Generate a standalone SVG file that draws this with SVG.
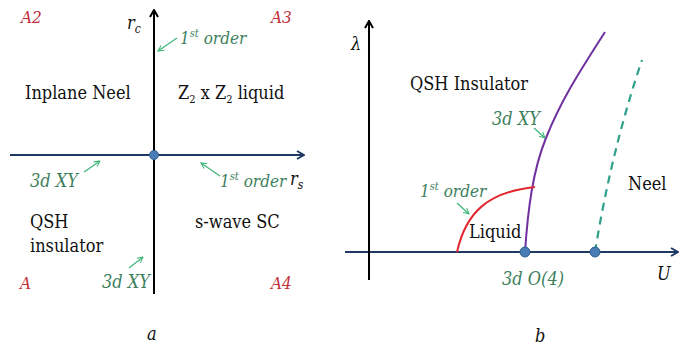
<svg xmlns="http://www.w3.org/2000/svg" width="690" height="347" viewBox="0 0 690 347">
<style>
.lbl{font-size:18px;fill:#111;}
.red{font-size:17px;fill:#C0303A;font-style:italic;}
.grn{font-size:18px;fill:#3E7F5E;font-style:italic;}
.ord{font-size:17px;fill:#3E7F5E;font-style:italic;}
.ax{font-size:18px;fill:#111;font-style:italic;}
.sup{font-size:11px;}
.gar{stroke:#3DB577;stroke-width:1.2;fill:none;marker-end:url(#ga);}
.navy{stroke:#1F3864;stroke-width:2;fill:none;marker-end:url(#na);}
.blk{stroke:#000;stroke-width:2;fill:none;marker-end:url(#ba);}
.dot{fill:#4A7DB5;stroke:#2F5C8F;stroke-width:1;}
</style>
<defs>
<marker id="ga" viewBox="0 0 10 10" refX="9" refY="5" markerWidth="7" markerHeight="7" markerUnits="userSpaceOnUse" orient="auto">
<path d="M1,1 L9,5 L1,9" fill="none" stroke="#3DB577" stroke-width="1.5"/>
</marker>
<marker id="na" viewBox="0 0 10 10" refX="9" refY="5" markerWidth="10" markerHeight="10" markerUnits="userSpaceOnUse" orient="auto">
<path d="M2,1 L9,5 L2,9" fill="none" stroke="#1F3864" stroke-width="2"/>
</marker>
<marker id="ba" viewBox="0 0 10 10" refX="9" refY="5" markerWidth="10" markerHeight="10" markerUnits="userSpaceOnUse" orient="auto">
<path d="M2,1 L9,5 L2,9" fill="none" stroke="#000" stroke-width="2"/>
</marker>
</defs>
<rect width="690" height="347" fill="#fff"/>

<g id="connectors">
<line class="navy" x1="10" y1="155" x2="304" y2="155"/>
<line class="blk" x1="154" y1="294" x2="154" y2="10"/>
<line class="gar" x1="177" y1="38" x2="158" y2="51"/>
<line class="gar" x1="84" y1="172" x2="100" y2="161"/>
<line class="gar" x1="220" y1="176" x2="201" y2="163"/>
<line class="gar" x1="129" y1="268" x2="143" y2="257"/>
<line class="navy" x1="345" y1="252" x2="678" y2="252"/>
<line class="blk" x1="369" y1="280" x2="369" y2="21"/>
<path d="M525,252 C528,208 533,170 546,138 C562,98 582,68 605,32" fill="none" stroke="#7030A0" stroke-width="2"/>
<path d="M457,252 C466,212 488,192 535,187" fill="none" stroke="#E0282E" stroke-width="2"/>
<path d="M595,252 C605,190 620,125 642,60" fill="none" stroke="#2FA08C" stroke-width="2.2" stroke-dasharray="8,6"/>
<line class="gar" x1="534" y1="128" x2="545" y2="138"/>
<line class="gar" x1="457" y1="203" x2="469" y2="214"/>
</g>

<g id="origin-a"><circle class="dot" cx="154" cy="155" r="4.5"/></g>
<g id="point-o4"><circle class="dot" cx="525" cy="252" r="5"/></g>
<g id="point-neel"><circle class="dot" cx="595" cy="252" r="5"/></g>

<g id="labels-a" font-family="DejaVu Serif Condensed, DejaVu Serif, serif">
<text class="red" x="21" y="23">A2</text>
<text class="red" x="271" y="23">A3</text>
<text class="red" x="20" y="289">A</text>
<text class="red" x="271" y="289">A4</text>
<text class="ax" x="127" y="29">r<tspan font-size="12px" dy="4">c</tspan></text>
<text class="ord" x="180" y="44">1<tspan class="sup" dy="-7">st</tspan><tspan dy="7"> order</tspan></text>
<text class="lbl" x="25" y="99">Inplane Neel</text>
<text class="lbl" x="178" y="99">Z<tspan font-size="11px" dy="4">2</tspan><tspan dy="-4"> x Z</tspan><tspan font-size="11px" dy="4">2</tspan><tspan dy="-4"> liquid</tspan></text>
<text class="grn" x="30" y="187">3d XY</text>
<text class="ord" x="220" y="187">1<tspan class="sup" dy="-7">st</tspan><tspan dy="7"> order</tspan></text>
<text class="ax" x="290" y="185">r<tspan font-size="12px" dy="4">s</tspan></text>
<text class="lbl" x="30" y="228">QSH</text>
<text class="lbl" x="30" y="252">insulator</text>
<text class="lbl" x="195" y="228">s-wave SC</text>
<text class="grn" x="102" y="288">3d XY</text>
<text class="ax" x="147" y="340">a</text>
</g>

<g id="labels-b" font-family="DejaVu Serif Condensed, DejaVu Serif, serif">
<text class="ax" x="351" y="50">λ</text>
<text class="lbl" x="410" y="90">QSH Insulator</text>
<text class="grn" x="492" y="125">3d XY</text>
<text class="ord" x="420" y="197">1<tspan class="sup" dy="-7">st</tspan><tspan dy="7"> order</tspan></text>
<text class="lbl" x="469" y="238">Liquid</text>
<text class="lbl" x="628" y="190">Neel</text>
<text class="ax" x="657" y="280">U</text>
<text class="grn" x="502" y="285">3d O(4)</text>
<text class="ax" x="535" y="342">b</text>
</g>
</svg>
